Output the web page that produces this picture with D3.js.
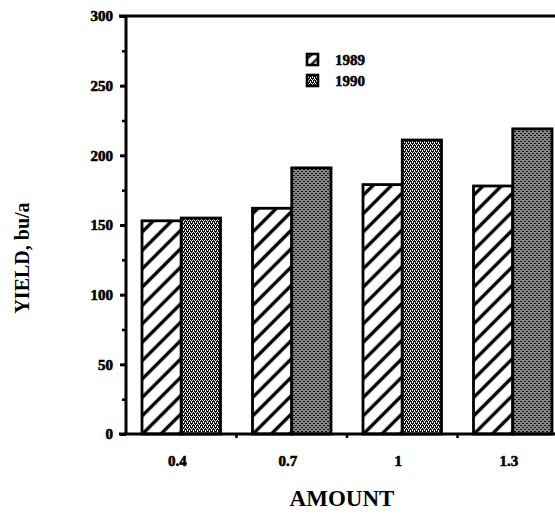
<!DOCTYPE html>
<html>
<head>
<meta charset="utf-8">
<script src="https://cdn.jsdelivr.net/npm/d3@7"></script>
<style>
  body { margin: 0; background: #fff; }
  text { font-family: "Liberation Serif", "DejaVu Serif", serif; font-weight: bold; }
</style>
</head>
<body>
<script>

// data
var AMOUNTS = ["0.4", "0.7", "1", "1.3"];
var SERIES = ["1989", "1990"];
var YIELD_1989 = [153, 162, 179, 178];
var YIELD_1990 = [155, 191, 211, 219];
var Y_TICKS = [0, 50, 100, 150, 200, 250, 300];

var W = 555, H = 519;
var X0 = 126, X1 = 568, Y0 = 434, Y1 = 16;

var svg = d3.select("body").append("svg")
    .attr("width", W)
    .attr("height", H);

var defs = svg.append("defs");

function makeHatch(id, size, sw) {
    var p = defs.append("pattern")
        .attr("id", id)
        .attr("patternUnits", "userSpaceOnUse")
        .attr("width", size).attr("height", size)
        .attr("patternTransform", "rotate(45)");
    p.append("rect").attr("width", size).attr("height", size).attr("fill", "#fff");
    p.append("line")
        .attr("x1", size / 2).attr("y1", 0).attr("x2", size / 2).attr("y2", size)
        .attr("stroke", "#000").attr("stroke-width", sw);
}
// diagonal hatch for 1989 (bars and legend)
makeHatch("hatch", 13, 3.4);
makeHatch("hatchSmall", 7, 2.2);

// halftone stipple for 1990: black with white specks
var dots = defs.append("pattern")
    .attr("id", "dots")
    .attr("patternUnits", "userSpaceOnUse")
    .attr("width", 4).attr("height", 4);
dots.append("rect").attr("width", 4).attr("height", 4).attr("fill", "#111");
[[0, 0], [2, 0], [1, 2], [3, 2], [1, 1], [3, 3]].forEach(function(p) {
    dots.append("rect").attr("x", p[0]).attr("y", p[1])
        .attr("width", 1).attr("height", 1).attr("fill", "#fff");
});

var FILLS = {"1989": "url(#hatch)", "1990": "url(#dots)"};
var LEGEND_FILLS = {"1989": "url(#hatchSmall)", "1990": "url(#dots)"};

var x = d3.scaleBand()
    .domain(AMOUNTS)
    .range([X0, X1])
    .padding(0);

var xs = d3.scaleBand()
    .domain(SERIES)
    .range([16, x.bandwidth() - 16]);

var y = d3.scaleLinear()
    .domain([0, 300])
    .range([Y0, Y1]);

var rows = AMOUNTS.map((a, i) => ({amount: a, vals: [
    {s: "1989", v: YIELD_1989[i]},
    {s: "1990", v: YIELD_1990[i]}
]}));

var group = svg.selectAll(".grp")
    .data(rows)
    .enter().append("g")
    .attr("class", "grp")
    .attr("transform", d => "translate(" + x(d.amount) + ",0)");

group.selectAll("rect")
    .data(d => d.vals)
    .enter().append("rect")
    .attr("x", d => xs(d.s))
    .attr("width", xs.bandwidth())
    .attr("y", d => y(d.v))
    .attr("height", d => y(0) - y(d.v))
    .attr("fill", d => FILLS[d.s])
    .attr("stroke", "#000")
    .attr("stroke-width", 2.8);

// frame: top line, left axis, bottom axis
svg.append("line")
    .attr("x1", X0 - 7).attr("x2", W).attr("y1", Y1).attr("y2", Y1)
    .attr("stroke", "#000").attr("stroke-width", 3);
svg.append("line")
    .attr("x1", X0).attr("x2", X0).attr("y1", Y1).attr("y2", Y0)
    .attr("stroke", "#000").attr("stroke-width", 3);
svg.append("line")
    .attr("x1", X0 - 7).attr("x2", W).attr("y1", Y0).attr("y2", Y0)
    .attr("stroke", "#000").attr("stroke-width", 3);

// y ticks (major + minor)
var yAxis = d3.axisLeft(y).tickValues(Y_TICKS).tickSize(6).tickPadding(7);
var gy = svg.append("g")
    .attr("transform", "translate(" + X0 + ",0)")
    .call(yAxis);
gy.select(".domain").remove();
gy.selectAll(".tick line").attr("stroke-width", 3);
gy.selectAll(".tick text")
    .attr("font-size", 15)
    .attr("font-family", "Liberation Serif")
    .attr("font-weight", "bold")
    .attr("stroke", "#000")
    .attr("stroke-width", 0.6)
    .attr("fill", "#000");

var gyMinor = svg.append("g")
    .attr("transform", "translate(" + X0 + ",0)")
    .call(d3.axisLeft(y).tickValues([25, 75, 125, 175, 225, 275]).tickSize(4).tickFormat(""));
gyMinor.select(".domain").remove();
gyMinor.selectAll(".tick line").attr("stroke-width", 2.5);

// x ticks at group boundaries, labels at group centres
var gxTicks = svg.append("g")
    .attr("transform", "translate(0," + Y0 + ")");
gxTicks.selectAll("line")
    .data(AMOUNTS.slice(1))
    .enter().append("line")
    .attr("x1", d => x(d)).attr("x2", d => x(d))
    .attr("y1", 0).attr("y2", 4)
    .attr("stroke", "#000").attr("stroke-width", 2.5);

var gx = svg.append("g")
    .attr("transform", "translate(-4," + Y0 + ")")
    .call(d3.axisBottom(x).tickSize(0).tickPadding(21));
gx.select(".domain").remove();
gx.selectAll(".tick text")
    .attr("font-size", 15)
    .attr("font-family", "Liberation Serif")
    .attr("font-weight", "bold")
    .attr("stroke", "#000")
    .attr("stroke-width", 0.6)
    .attr("fill", "#000");

// legend
var legend = svg.append("g")
    .attr("transform", "translate(307,54)");
SERIES.forEach(function(s, i) {
    var g = legend.append("g").attr("transform", "translate(0," + (i * 21) + ")");
    g.append("rect")
        .attr("width", 11).attr("height", 11)
        .attr("fill", LEGEND_FILLS[s])
        .attr("stroke", "#000").attr("stroke-width", 2.6);
    g.append("text")
        .attr("x", 28).attr("y", 11)
        .attr("font-size", 15)
        .attr("stroke", "#000")
        .attr("stroke-width", 0.5)
        .text(s);
});

// axis titles
svg.append("text")
    .attr("x", 342).attr("y", 506)
    .attr("text-anchor", "middle")
    .attr("font-size", 23)
    .text("AMOUNT");

svg.append("text")
    .attr("transform", "translate(29,258) rotate(-90)")
    .attr("text-anchor", "middle")
    .attr("font-size", 20)
    .text("YIELD, bu/a");

</script>
</body>
</html>
